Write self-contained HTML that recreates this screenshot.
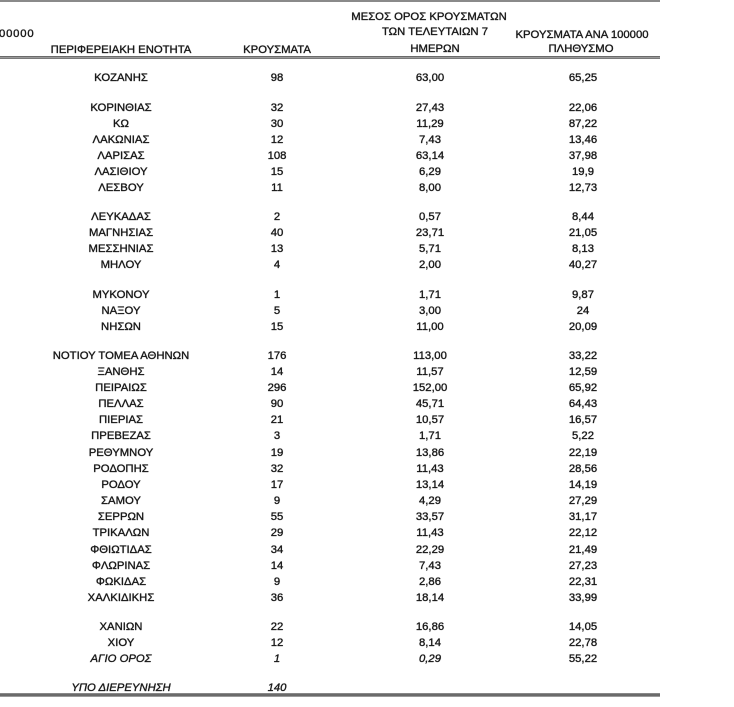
<!DOCTYPE html>
<html>
<head>
<meta charset="utf-8">
<style>
  html, body { margin:0; padding:0; background:#fff; }
  body { width:734px; height:707px; position:relative; overflow:hidden;
         font-family:"Liberation Sans", "DejaVu Sans", sans-serif; font-size:11.3px; color:#161616; }
  .t { position:absolute; height:16px; line-height:16px; white-space:nowrap; text-align:center; width:200px; -webkit-text-stroke:0.25px #222; text-shadow:0 0 0.6px #555; }
  .c1 { left:21px; }
  .c2 { left:177px; }
  .c3 { left:330px; }
  .c4 { left:483px; }
  .i { font-style:italic; }
  .line { position:absolute; left:0; width:660px; }
</style>
</head>
<body>
<div class="line" style="top:0;height:2px;background:#8a8a8a;"></div>
<div class="line" style="top:56px;height:1px;background:#6a6a6a;"></div>
<div class="line" style="top:57px;height:1px;background:#9a9a9a;"></div>
<div class="line" style="top:58px;height:1px;background:#7a7a7a;"></div>
<div class="line" style="top:693px;height:1px;background:#888;"></div>
<div class="line" style="top:694px;height:2px;background:#6a6a6a;"></div>
<div class="line" style="top:696px;height:1px;background:#9a9a9a;"></div>

<div class="t" style="left:-1px;width:60px;text-align:left;top:26px;letter-spacing:0.8px;">00000</div>
<div class="t" style="left:329px;top:9px;">ΜΕΣΟΣ ΟΡΟΣ ΚΡΟΥΣΜΑΤΩΝ</div>
<div class="t" style="left:335px;top:24px;">ΤΩΝ ΤΕΛΕΥΤΑΙΩΝ 7</div>
<div class="t" style="left:335px;top:41px;">ΗΜΕΡΩΝ</div>
<div class="t" style="left:482px;top:27px;">ΚΡΟΥΣΜΑΤΑ ΑΝΑ 100000</div>
<div class="t" style="left:481px;top:41px;">ΠΛΗΘΥΣΜΟ</div>
<div class="t c1" style="top:42px;">ΠΕΡΙΦΕΡΕΙΑΚΗ ΕΝΟΤΗΤΑ</div>
<div class="t c2" style="top:42px;">ΚΡΟΥΣΜΑΤΑ</div>

<div class="t c1" style="top:70px;">ΚΟΖΑΝΗΣ</div><div class="t c2" style="top:70px;">98</div><div class="t c3" style="top:70px;">63,00</div><div class="t c4" style="top:70px;">65,25</div>

<div class="t c1" style="top:100px;">ΚΟΡΙΝΘΙΑΣ</div><div class="t c2" style="top:100px;">32</div><div class="t c3" style="top:100px;">27,43</div><div class="t c4" style="top:100px;">22,06</div>
<div class="t c1" style="top:116px;">ΚΩ</div><div class="t c2" style="top:116px;">30</div><div class="t c3" style="top:116px;">11,29</div><div class="t c4" style="top:116px;">87,22</div>
<div class="t c1" style="top:132px;">ΛΑΚΩΝΙΑΣ</div><div class="t c2" style="top:132px;">12</div><div class="t c3" style="top:132px;">7,43</div><div class="t c4" style="top:132px;">13,46</div>
<div class="t c1" style="top:148px;">ΛΑΡΙΣΑΣ</div><div class="t c2" style="top:148px;">108</div><div class="t c3" style="top:148px;">63,14</div><div class="t c4" style="top:148px;">37,98</div>
<div class="t c1" style="top:164px;">ΛΑΣΙΘΙΟΥ</div><div class="t c2" style="top:164px;">15</div><div class="t c3" style="top:164px;">6,29</div><div class="t c4" style="top:164px;">19,9</div>
<div class="t c1" style="top:180px;">ΛΕΣΒΟΥ</div><div class="t c2" style="top:180px;">11</div><div class="t c3" style="top:180px;">8,00</div><div class="t c4" style="top:180px;">12,73</div>

<div class="t c1" style="top:209px;">ΛΕΥΚΑΔΑΣ</div><div class="t c2" style="top:209px;">2</div><div class="t c3" style="top:209px;">0,57</div><div class="t c4" style="top:209px;">8,44</div>
<div class="t c1" style="top:225px;">ΜΑΓΝΗΣΙΑΣ</div><div class="t c2" style="top:225px;">40</div><div class="t c3" style="top:225px;">23,71</div><div class="t c4" style="top:225px;">21,05</div>
<div class="t c1" style="top:241px;">ΜΕΣΣΗΝΙΑΣ</div><div class="t c2" style="top:241px;">13</div><div class="t c3" style="top:241px;">5,71</div><div class="t c4" style="top:241px;">8,13</div>
<div class="t c1" style="top:257px;">ΜΗΛΟΥ</div><div class="t c2" style="top:257px;">4</div><div class="t c3" style="top:257px;">2,00</div><div class="t c4" style="top:257px;">40,27</div>

<div class="t c1" style="top:287px;">ΜΥΚΟΝΟΥ</div><div class="t c2" style="top:287px;">1</div><div class="t c3" style="top:287px;">1,71</div><div class="t c4" style="top:287px;">9,87</div>
<div class="t c1" style="top:303px;">ΝΑΞΟΥ</div><div class="t c2" style="top:303px;">5</div><div class="t c3" style="top:303px;">3,00</div><div class="t c4" style="top:303px;">24</div>
<div class="t c1" style="top:319px;">ΝΗΣΩΝ</div><div class="t c2" style="top:319px;">15</div><div class="t c3" style="top:319px;">11,00</div><div class="t c4" style="top:319px;">20,09</div>

<div class="t c1" style="top:348px;">ΝΟΤΙΟΥ ΤΟΜΕΑ ΑΘΗΝΩΝ</div><div class="t c2" style="top:348px;">176</div><div class="t c3" style="top:348px;">113,00</div><div class="t c4" style="top:348px;">33,22</div>
<div class="t c1" style="top:364px;">ΞΑΝΘΗΣ</div><div class="t c2" style="top:364px;">14</div><div class="t c3" style="top:364px;">11,57</div><div class="t c4" style="top:364px;">12,59</div>
<div class="t c1" style="top:380px;">ΠΕΙΡΑΙΩΣ</div><div class="t c2" style="top:380px;">296</div><div class="t c3" style="top:380px;">152,00</div><div class="t c4" style="top:380px;">65,92</div>
<div class="t c1" style="top:396px;">ΠΕΛΛΑΣ</div><div class="t c2" style="top:396px;">90</div><div class="t c3" style="top:396px;">45,71</div><div class="t c4" style="top:396px;">64,43</div>
<div class="t c1" style="top:412px;">ΠΙΕΡΙΑΣ</div><div class="t c2" style="top:412px;">21</div><div class="t c3" style="top:412px;">10,57</div><div class="t c4" style="top:412px;">16,57</div>
<div class="t c1" style="top:428px;">ΠΡΕΒΕΖΑΣ</div><div class="t c2" style="top:428px;">3</div><div class="t c3" style="top:428px;">1,71</div><div class="t c4" style="top:428px;">5,22</div>
<div class="t c1" style="top:445px;">ΡΕΘΥΜΝΟΥ</div><div class="t c2" style="top:445px;">19</div><div class="t c3" style="top:445px;">13,86</div><div class="t c4" style="top:445px;">22,19</div>
<div class="t c1" style="top:461px;">ΡΟΔΟΠΗΣ</div><div class="t c2" style="top:461px;">32</div><div class="t c3" style="top:461px;">11,43</div><div class="t c4" style="top:461px;">28,56</div>
<div class="t c1" style="top:477px;">ΡΟΔΟΥ</div><div class="t c2" style="top:477px;">17</div><div class="t c3" style="top:477px;">13,14</div><div class="t c4" style="top:477px;">14,19</div>
<div class="t c1" style="top:493px;">ΣΑΜΟΥ</div><div class="t c2" style="top:493px;">9</div><div class="t c3" style="top:493px;">4,29</div><div class="t c4" style="top:493px;">27,29</div>
<div class="t c1" style="top:509px;">ΣΕΡΡΩΝ</div><div class="t c2" style="top:509px;">55</div><div class="t c3" style="top:509px;">33,57</div><div class="t c4" style="top:509px;">31,17</div>
<div class="t c1" style="top:525px;">ΤΡΙΚΑΛΩΝ</div><div class="t c2" style="top:525px;">29</div><div class="t c3" style="top:525px;">11,43</div><div class="t c4" style="top:525px;">22,12</div>
<div class="t c1" style="top:542px;">ΦΘΙΩΤΙΔΑΣ</div><div class="t c2" style="top:542px;">34</div><div class="t c3" style="top:542px;">22,29</div><div class="t c4" style="top:542px;">21,49</div>
<div class="t c1" style="top:558px;">ΦΛΩΡΙΝΑΣ</div><div class="t c2" style="top:558px;">14</div><div class="t c3" style="top:558px;">7,43</div><div class="t c4" style="top:558px;">27,23</div>
<div class="t c1" style="top:574px;">ΦΩΚΙΔΑΣ</div><div class="t c2" style="top:574px;">9</div><div class="t c3" style="top:574px;">2,86</div><div class="t c4" style="top:574px;">22,31</div>
<div class="t c1" style="top:590px;">ΧΑΛΚΙΔΙΚΗΣ</div><div class="t c2" style="top:590px;">36</div><div class="t c3" style="top:590px;">18,14</div><div class="t c4" style="top:590px;">33,99</div>

<div class="t c1" style="top:619px;">ΧΑΝΙΩΝ</div><div class="t c2" style="top:619px;">22</div><div class="t c3" style="top:619px;">16,86</div><div class="t c4" style="top:619px;">14,05</div>
<div class="t c1" style="top:635px;">ΧΙΟΥ</div><div class="t c2" style="top:635px;">12</div><div class="t c3" style="top:635px;">8,14</div><div class="t c4" style="top:635px;">22,78</div>
<div class="t c1 i" style="top:651px;">ΑΓΙΟ ΟΡΟΣ</div><div class="t c2 i" style="top:651px;">1</div><div class="t c3 i" style="top:651px;">0,29</div><div class="t c4" style="top:651px;">55,22</div>

<div class="t c1 i" style="top:680px;">ΥΠΟ ΔΙΕΡΕΥΝΗΣΗ</div><div class="t c2 i" style="top:680px;">140</div>
</body>
</html>
